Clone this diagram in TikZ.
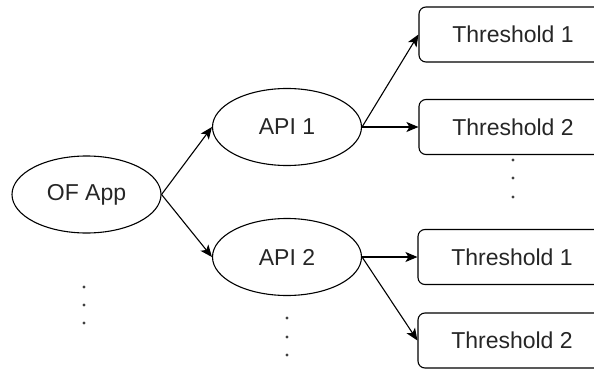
\documentclass[tikz,border=0pt]{standalone}
\usepackage{fontspec}
\setmainfont{Liberation Sans}
\usetikzlibrary{shapes.geometric,arrows.meta}
\begin{document}
\begin{tikzpicture}[x=1pt,y=-1pt,
  every node/.style={font=\fontsize{23}{27}\selectfont, text=black!85},
  oval/.style={draw, ellipse, line width=1.1pt, inner sep=0pt, minimum width=149pt, minimum height=77pt},
  tbox/.style={draw, rounded corners=7pt, line width=1.1pt, inner sep=0pt, minimum width=188pt, minimum height=55pt},
  conn/.style={line width=1.1pt, -{Stealth[length=12pt,width=10pt,inset=3pt]}},
  dot/.style={fill=black!75}]
\useasboundingbox (0,0) rectangle (594,369);
\node[oval] (of) at (86.5,194.5) {OF App};
\node[oval] (api1) at (287,127) {API 1};
\node[oval] (api2) at (287,257) {API 2};
\node[tbox] (t11) at (513,34.5) {Threshold 1};
\node[tbox] (t12) at (513,127) {Threshold 2};
\node[tbox] (t21) at (512,257) {Threshold 1};
\node[tbox] (t22) at (512,340.5) {Threshold 2};
\draw[conn] (of.east) -- (api1.west);
\draw[conn] (of.east) -- (api2.west);
\draw[conn] (api1.east) -- (t11.west);
\draw[conn] (api1.east) -- (t12.west);
\draw[conn] (api2.east) -- (t21.west);
\draw[conn] (api2.east) -- (t22.west);
\foreach \y in {287,305,323} \fill[dot] (84,\y) circle (1.6pt);
\foreach \y in {160,178,197} \fill[dot] (513,\y) circle (1.6pt);
\foreach \y in {318,337,355} \fill[dot] (287,\y) circle (1.6pt);
\end{tikzpicture}
\end{document}
